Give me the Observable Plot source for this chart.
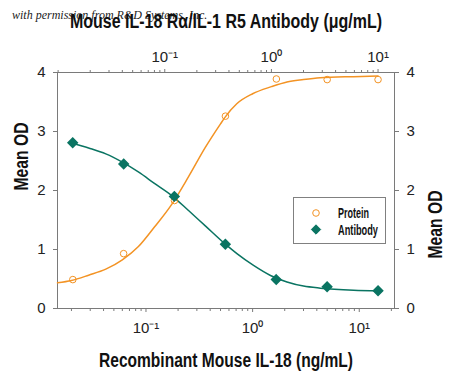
<!DOCTYPE html>
<html><head><meta charset="utf-8">
<script src="https://cdn.jsdelivr.net/npm/d3@7"></script>
<script src="https://cdn.jsdelivr.net/npm/@observablehq/plot@0.6"></script>
<style>
body{margin:0;background:#fff;}
#wrap{position:relative;width:450px;height:377px;overflow:hidden;font-family:"Liberation Sans",Arial,sans-serif;}
#wm{position:absolute;left:12px;top:8px;font-family:"Liberation Serif","DejaVu Serif",serif;font-style:italic;font-size:12px;color:#222;white-space:nowrap;}
#legend{position:absolute;left:293px;top:197px;width:93px;height:47px;border:1px solid #808080;background:#fff;box-sizing:border-box;}
#legend svg{position:absolute;left:0;top:0;overflow:visible;}
</style></head><body><div id="wrap"></div>
<script>
// ---- data ----
const title = "Mouse IL-18 R\u03b1/IL-1 R5 Antibody (\u03bcg/mL)";
const xTitle = "Recombinant Mouse IL-18 (ng/mL)";
const yTitle = "Mean OD";
const watermark = "with permission from R&D Systems, Inc.";
const seriesNames = ["Protein", "Antibody"];

const proteinDose = [0.0206, 0.0617, 0.185, 0.556, 1.67, 5, 15];      // ng/mL
const proteinOD   = [0.49, 0.93, 1.83, 3.26, 3.89, 3.88, 3.88];
const antibodyDose = [0.0137, 0.0412, 0.123, 0.370, 1.11, 3.33, 10];  // µg/mL
const antibodyOD   = [2.81, 2.45, 1.90, 1.09, 0.49, 0.37, 0.30];

// fitted curves
const proteinFitDose = [0.0148, 0.02, 0.029, 0.042, 0.06, 0.085, 0.12, 0.175, 0.25, 0.36, 0.5, 0.55, 0.71, 1.0, 1.5, 2.1, 3.0, 4.3, 8.8, 15];
const proteinFitOD   = [0.435, 0.475, 0.565, 0.667, 0.825, 1.05, 1.38, 1.77, 2.23, 2.73, 3.13, 3.24, 3.47, 3.64, 3.76, 3.84, 3.88, 3.91, 3.93, 3.94];
const antibodyFitDose = [0.0137, 0.0193, 0.028, 0.040, 0.057, 0.080, 0.117, 0.167, 0.24, 0.37, 0.475, 0.68, 0.98, 1.4, 2.0, 2.87, 5.9, 10];
const antibodyFitOD   = [2.80, 2.72, 2.62, 2.48, 2.31, 2.12, 1.91, 1.66, 1.40, 1.09, 0.93, 0.73, 0.56, 0.45, 0.38, 0.345, 0.31, 0.30];

const bottomMajor = [0.1, 1, 10];
const topMajor = [0.1, 1, 10];
const majorLabels = ["10\u207b\u00b9", "10\u2070", "10\u00b9"];
const yTicks = [0, 1, 2, 3, 4];
const yTickLabels = ["0", "1", "2", "3", "4"];
const xDomain = [0.0148, 21.4];
const antibodyToBottom = 1.5; // top (µg/mL) axis offset relative to bottom (ng/mL)

const orange = "#F39324";
const teal = "#0A7462";
const axisGray = "#7a7a7a";
const font = '"Liberation Sans",Arial,sans-serif';

// ---- build ----
const protein = proteinDose.map((d, i) => ({dose: d, od: proteinOD[i]}));
const antibody = antibodyDose.map((d, i) => ({dose: d * antibodyToBottom, od: antibodyOD[i]}));
const proteinFit = proteinFitDose.map((d, i) => ({dose: d, od: proteinFitOD[i]}));
const antibodyFit = antibodyFitDose.map((d, i) => ({dose: d * antibodyToBottom, od: antibodyFitOD[i]}));

const bottomMinor = d3.scaleLog().domain(xDomain).ticks().filter(t => !bottomMajor.includes(t));
const topDomain = xDomain.map(v => v / antibodyToBottom);
const topMinor = d3.scaleLog().domain(topDomain).ticks().filter(t => !topMajor.includes(t)).map(t => t * antibodyToBottom);
const topMajorPos = topMajor.map(t => t * antibodyToBottom);
const bottomLabel = new Map(bottomMajor.map((t, i) => [t, majorLabels[i]]));
const topLabel = new Map(topMajorPos.map((t, i) => [t, majorLabels[i]]));
const yLabel = new Map(yTicks.map((t, i) => [t, yTickLabels[i]]));

const plot = Plot.plot({
  width: 450, height: 377,
  marginTop: 72, marginBottom: 69, marginLeft: 57, marginRight: 56,
  x: {type: "log", domain: xDomain},
  y: {domain: [0, 4]},
  style: {fontFamily: font, fontSize: "15px", color: "#222", background: "transparent", overflow: "visible"},
  marks: [
    Plot.axisX(bottomMinor, {anchor: "bottom", tickSize: 3, tickFormat: () => "", stroke: axisGray, label: null}),
    Plot.axisX(bottomMajor, {anchor: "bottom", tickSize: 4, tickPadding: 10, tickFormat: d => bottomLabel.get(d), stroke: axisGray, label: null}),
    Plot.axisX(topMinor, {anchor: "top", tickSize: 3, tickFormat: () => "", stroke: axisGray, label: null}),
    Plot.axisX(topMajorPos, {anchor: "top", tickSize: 4, tickPadding: 7, tickFormat: d => topLabel.get(d), stroke: axisGray, label: null}),
    Plot.axisY(yTicks, {anchor: "left", tickSize: 4, tickPadding: 8, tickFormat: d => yLabel.get(d), stroke: axisGray, label: null}),
    Plot.axisY(yTicks, {anchor: "right", tickSize: 4, tickPadding: 8, tickFormat: d => yLabel.get(d), stroke: axisGray, label: null}),
    Plot.frame({stroke: axisGray}),
    Plot.line(proteinFit, {x: "dose", y: "od", stroke: orange, strokeWidth: 1.5, curve: "monotone-x"}),
    Plot.line(antibodyFit, {x: "dose", y: "od", stroke: teal, strokeWidth: 1.5, curve: "monotone-x"}),
    Plot.dot(protein, {x: "dose", y: "od", r: 3.3, stroke: orange, strokeWidth: 1, fill: "none"}),
    Plot.dot(antibody, {x: "dose", y: "od", r: 4.2, symbol: "diamond2", fill: teal, stroke: teal}),
    Plot.text([title], {frameAnchor: "top", dy: -51, fontSize: 20, fontWeight: "bold", fill: "#111", lineAnchor: "middle"}),
    Plot.text([xTitle], {frameAnchor: "bottom", dy: 52, fontSize: 20, fontWeight: "bold", fill: "#111", lineAnchor: "middle"}),
    Plot.text([yTitle], {frameAnchor: "left", dx: -36, rotate: -90, fontSize: 20, fontWeight: "bold", fill: "#111", lineAnchor: "middle"}),
    Plot.text([yTitle], {frameAnchor: "right", dx: 41, rotate: -90, fontSize: 20, fontWeight: "bold", fill: "#111", lineAnchor: "middle"})
  ]
});

// condensed look: squeeze the title texts to the reference widths
const squeeze = new Map([[title, 312], [xTitle, 254], [yTitle, 68]]);
d3.select(plot).selectAll("text").each(function() {
  const w = squeeze.get(this.textContent);
  if (w) d3.select(this).attr("textLength", w).attr("lengthAdjust", "spacingAndGlyphs");
});

const wrap = document.getElementById("wrap");
const wm = document.createElement("div");
wm.id = "wm"; wm.textContent = watermark;
wrap.appendChild(wm);
plot.style.position = "absolute"; plot.style.left = "0"; plot.style.top = "0";
wrap.appendChild(plot);

const legend = document.createElement("div");
legend.id = "legend";
const lsvg = d3.create("svg").attr("width", 93).attr("height", 47);
const symbols = [
  g => g.append("circle").attr("r", 3.3).attr("fill", "none").attr("stroke", orange).attr("stroke-width", 1),
  g => g.append("path").attr("d", d3.symbol(d3.symbolDiamond2, 56)()).attr("fill", teal).attr("stroke", teal)
];
const textWidths = [31, 40];
seriesNames.forEach((name, i) => {
  const g = lsvg.append("g").attr("transform", `translate(22,${15 + i * 16.5})`);
  symbols[i](g);
  g.append("text").attr("x", 22).attr("dy", "0.35em").attr("font-family", font)
    .attr("font-weight", "bold").attr("font-size", 15).attr("fill", "#111")
    .attr("textLength", textWidths[i]).attr("lengthAdjust", "spacingAndGlyphs").text(name);
});
legend.appendChild(lsvg.node());
wrap.appendChild(legend);
</script>
</body></html>
